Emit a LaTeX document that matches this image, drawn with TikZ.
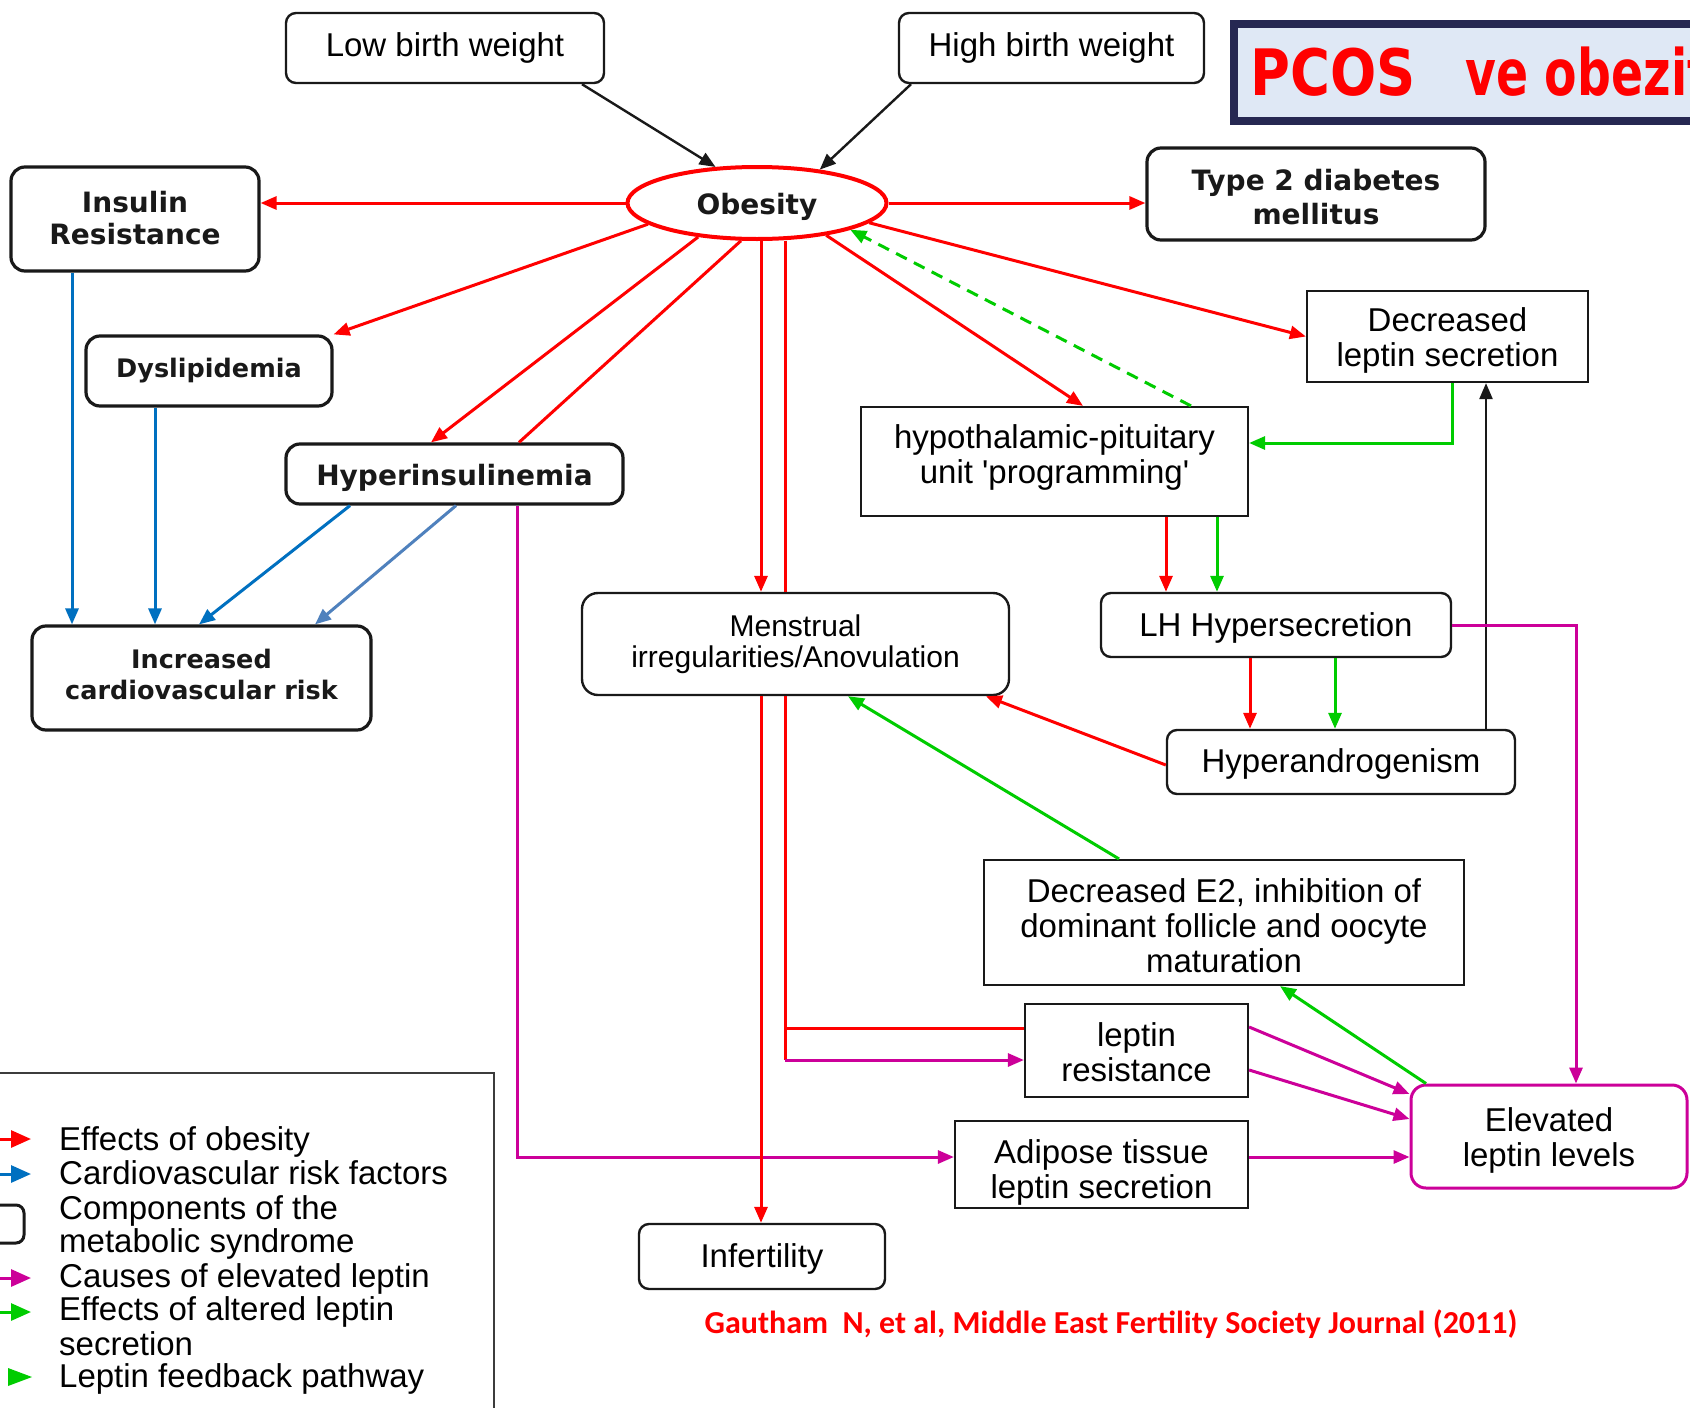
\documentclass[tikz,border=0pt]{standalone}
\usepackage{fontspec}
\usepackage{graphicx}
\setmainfont{Liberation Sans}
\newfontfamily\dvsans{DejaVu Sans}
\newfontfamily\carlf{Carlito}
\usetikzlibrary{shapes.geometric,arrows.meta,calc}
\definecolor{cred}{RGB}{255,0,0}
\definecolor{cblue}{RGB}{0,112,192}
\definecolor{csteel}{RGB}{79,129,189}
\definecolor{cgreen}{RGB}{0,204,0}
\definecolor{cmag}{RGB}{204,0,153}
\definecolor{cnavy}{RGB}{38,40,82}
\definecolor{cfill}{RGB}{223,232,245}
\definecolor{cbord}{RGB}{25,25,25}
\begin{document}
\begin{tikzpicture}[x=1pt,y=-1pt,
  rb/.style={draw=cbord, rounded corners=10pt, line width=2.4pt, inner sep=0pt},
  bb/.style={draw=cbord, rounded corners=14pt, line width=3.2pt, inner sep=0pt},
  sb/.style={draw=cbord, line width=2.2pt, inner sep=0pt},
  tx/.style={inner sep=0pt, align=center, font=\fontsize{33}{35}\selectfont},
  txb/.style={inner sep=0pt, align=center, text=black!90, font=\dvsans\bfseries\fontsize{28}{32}\selectfont},
  legt/.style={inner sep=0pt, anchor=base west, font=\fontsize{33}{34}\selectfont},
  hd/.style={-{Triangle[length=16pt,width=13pt]}},
  ra/.style={draw=cred, line width=3pt, hd},
  rl/.style={draw=cred, line width=3pt},
  ba/.style={draw=cblue, line width=3pt, hd},
  sa/.style={draw=csteel, line width=3pt, hd},
  ga/.style={draw=cgreen, line width=3pt, hd},
  gd/.style={draw=cgreen, line width=3pt, dash pattern=on 12pt off 8pt, hd},
  ma/.style={draw=cmag, line width=3pt, hd},
  ka/.style={draw=cbord, line width=2.4pt, hd},
  legar/.style={line width=3pt, -{Triangle[length=20pt,width=17pt]}}
]
\useasboundingbox (0,0) rectangle (1690,1408);
\clip (0,0) rectangle (1690,1408);
\fill[white] (0,0) rectangle (1690,1408);

% title box
\draw[draw=cnavy, fill=cfill, line width=8pt] (1234,24) rectangle (1780,121);
\node[inner sep=0pt, anchor=west, text=cred, font=\dvsans\bfseries\fontsize{64}{64}\selectfont] (title) at (1250,72) {\scalebox{0.85}[1]{PCOS}\hspace{50pt}\scalebox{0.74}[1]{ve obezite}};

% boxes
\node[rb, minimum width=318pt, minimum height=70pt] (lbw) at (445,48) {};
\node[rb, minimum width=305pt, minimum height=70pt] (hbw) at (1051.5,48) {};
\node[ellipse, draw=cred, line width=4pt, minimum width=259pt, minimum height=72pt, inner sep=0pt] (ob) at (757,203) {};
\node[bb, minimum width=248pt, minimum height=104pt] (ir) at (135,219) {};
\node[bb, minimum width=338pt, minimum height=92pt] (t2) at (1316,194) {};
\node[bb, minimum width=246pt, minimum height=70pt] (dys) at (209,371) {};
\node[sb, minimum width=281pt, minimum height=91pt] (dls) at (1447.5,336.5) {};
\node[sb, minimum width=387pt, minimum height=109pt] (hpu) at (1054.5,461.5) {};
\node[bb, minimum width=337pt, minimum height=60pt] (hi) at (454.5,474) {};
\node[bb, minimum width=339pt, minimum height=104pt] (cvr) at (201.5,678) {};
\node[rb, rounded corners=16pt, minimum width=427pt, minimum height=102pt] (men) at (795.5,644) {};
\node[rb, minimum width=350pt, minimum height=64pt] (lh) at (1276,625) {};
\node[rb, minimum width=348pt, minimum height=64pt] (ha) at (1341,762) {};
\node[sb, minimum width=480pt, minimum height=125pt] (e2) at (1224,922.5) {};
\node[sb, minimum width=223pt, minimum height=93pt] (lr) at (1136.5,1050.5) {};
\node[draw=cmag, line width=3pt, rounded corners=15pt, inner sep=0pt, minimum width=276pt, minimum height=103pt] (el) at (1549,1136.5) {};
\node[sb, minimum width=293pt, minimum height=87pt] (ad) at (1101.5,1164.5) {};
\node[rb, minimum width=246pt, minimum height=65pt] (inf) at (762,1256.5) {};

% box texts
\node[tx] (lbwT) at (lbw.center) {Low birth weight};
\node[tx] (hbwT) at (hbw.center) {High birth weight};
\node[txb] (obT) at ([yshift=-4pt]ob.center) {Obesity};
\node[txb] (irT) at ([yshift=0.5pt]ir.center) {Insulin\\Resistance};
\node[txb, font=\dvsans\bfseries\fontsize{28}{34.5}\selectfont] (t2T) at ([yshift=-3pt]t2.center) {Type 2 diabetes\\mellitus};
\node[txb, font=\dvsans\bfseries\fontsize{25.5}{30}\selectfont] (dysT) at (dys.center) {Dyslipidemia};
\node[tx] (dlsT) at ([yshift=-3.8pt]dls.center) {Decreased\\leptin secretion};
\node[tx] (hpuT) at ([yshift=4pt]hpu.center) {hypothalamic-pituitary\\unit \textquotesingle programming\textquotesingle};
\node[txb] (hiT) at ([yshift=-4pt]hi.center) {Hyperinsulinemia};
\node[txb, font=\dvsans\bfseries\fontsize{25.5}{31}\selectfont] (cvrT) at ([yshift=4pt]cvr.center) {Increased\\cardiovascular risk};
\node[tx, font=\fontsize{30}{31}\selectfont] (menT) at (men.center) {Menstrual\\irregularities/Anovulation};
\node[tx] (lhT) at ([yshift=-3pt]lh.center) {LH Hypersecretion};
\node[tx] (haT) at ([yshift=-2pt]ha.center) {Hyperandrogenism};
\node[tx] (e2T) at ([yshift=-3pt]e2.center) {Decreased E2, inhibition of\\dominant follicle and oocyte\\maturation};
\node[tx] (lrT) at ([yshift=-2pt]lr.center) {leptin\\resistance};
\node[tx] (elT) at ([yshift=-3.5pt]el.center) {Elevated\\leptin levels};
\node[tx] (adT) at ([yshift=-7.5pt]ad.center) {Adipose tissue\\leptin secretion};
\node[tx] (infT) at ([yshift=-2pt]inf.center) {Infertility};

\node[inner sep=0pt, text=cred, font=\carlf\bfseries\fontsize{32}{34}\selectfont] (cite) at (1111,1324) {Gautham\ \ N, et al, Middle East Fertility Society Journal (2011)};

% connectors
\draw[ka] ([xshift=137pt]lbw.south) -- (ob.139.5);
\draw[ka] ([xshift=-140.5pt]hbw.south) -- (ob.28.5);
\draw[ra] (ob.west) -- (ob.west -| ir.east);
\draw[ra] (ob.east) -- (ob.east -| t2.west);
\draw[ra] (ob.191.3) -- (dys.north east);
\draw[ra] (ob.210.1) -- ([xshift=-23.5pt]hi.north);
\draw[rl] (ob.247.3) -- ([xshift=64.5pt]hi.north);
\draw[ra] ([xshift=-34.5pt]men.north |- ob.south) -- ([xshift=-34.5pt]men.north);
\draw[rl] ([xshift=-10.5pt]men.north |- ob.south) -- ([xshift=-10.5pt]men.north);
\draw[ra] (ob.335.8) -- ([xshift=28.5pt]hpu.north);
\draw[ra] (ob.350.5) -- (dls.west);
\draw[gd] ([xshift=136.5pt]hpu.north) -- (ob.344.3);
\draw[ga] ([xshift=4.5pt]dls.south) |- ([yshift=18.5pt]hpu.east);
\draw[ra] ([xshift=111.5pt]hpu.south) -- ([xshift=-110pt]lh.north);
\draw[ga] ([xshift=162.5pt]hpu.south) -- ([xshift=-59pt]lh.north);
\draw[ra] ([xshift=-26pt]lh.south) -- ([xshift=-91pt]ha.north);
\draw[ga] ([xshift=59pt]lh.south) -- ([xshift=-6pt]ha.north);
\draw[ka] ([xshift=145pt]ha.north) -- ([xshift=38.5pt]dls.south);
\draw[ra] ([yshift=-3pt]ha.west) -- ([xshift=190.5pt]men.south);
\draw[ga] ([xshift=-105pt]e2.north) -- ([xshift=52.5pt]men.south);
\draw[ga] ([xshift=-123pt]el.north) -- ([xshift=56pt]e2.south);
\draw[ma] (lh.east) -| ([xshift=27pt]el.north);
\draw[ma] ([yshift=23.5pt]lr.east) -- ([yshift=42.5pt]el.west);
\draw[ma] ([yshift=-19.5pt]lr.east) -- ([yshift=17.5pt]el.west);
\draw[ma] ([yshift=7.5pt]ad.east) -- ([yshift=7.5pt]ad.east -| el.west);
\draw[ma] ([xshift=62.5pt]hi.south) |- ([yshift=7.5pt]ad.west);
\draw[ra] ([xshift=-34.5pt]men.south) -- ([xshift=-34.5pt]men.south |- inf.north);
\coordinate (lrhi) at ([yshift=22.5pt]lr.west);
\coordinate (lrlo) at ([yshift=-9.5pt]lr.west);
\draw[rl] ([xshift=-10.5pt]men.south) |- (lrhi);
\draw[rl] ([xshift=-10.5pt]men.south |- lrhi) -- ([xshift=-10.5pt]men.south |- lrlo);
\draw[ma] ([xshift=-10.5pt]men.south |- lrlo) -- (lrlo);
\draw[ba] ([xshift=-63pt]ir.south) -- ([xshift=-63pt]ir.south |- cvr.north);
\draw[ba] ([xshift=-54pt]dys.south) -- ([xshift=-54pt]dys.south |- cvr.north);
\draw[ba] ([xshift=-104.5pt]hi.south) -- ([xshift=-2.5pt]cvr.north);
\draw[sa] ([xshift=1.5pt]hi.south) -- ([xshift=113.5pt]cvr.north);

% legend
\draw[draw=cbord!85, line width=2pt] (-10,1073) -- (494,1073) -- (494,1420);
\draw[legar, cred] (-5,1139) -- (31,1139);
\draw[legar, cblue] (-5,1174) -- (31,1174);
\draw[draw=cbord, line width=3pt, rounded corners=8pt] (-20,1205) rectangle (24,1243);
\draw[legar, cmag] (-5,1278) -- (31,1278);
\draw[legar, cgreen] (-5,1312) -- (31,1312);
\fill[cgreen] (8,1368) -- (32,1377) -- (8,1386) -- cycle;
\node[legt] (l1) at (59,1150.5) {Effects of obesity};
\node[legt] (l2) at (59,1184.5) {Cardiovascular risk factors};
\node[legt] (l3) at (59,1219.5) {Components of the};
\node[legt] (l4) at (59,1252.5) {metabolic syndrome};
\node[legt] (l5) at (59,1287.5) {Causes of elevated leptin};
\node[legt] (l6) at (59,1320.5) {Effects of altered leptin};
\node[legt] (l7) at (59,1355.5) {secretion};
\node[legt] (l8) at (59,1387.5) {Leptin feedback pathway};
\end{tikzpicture}
\end{document}
